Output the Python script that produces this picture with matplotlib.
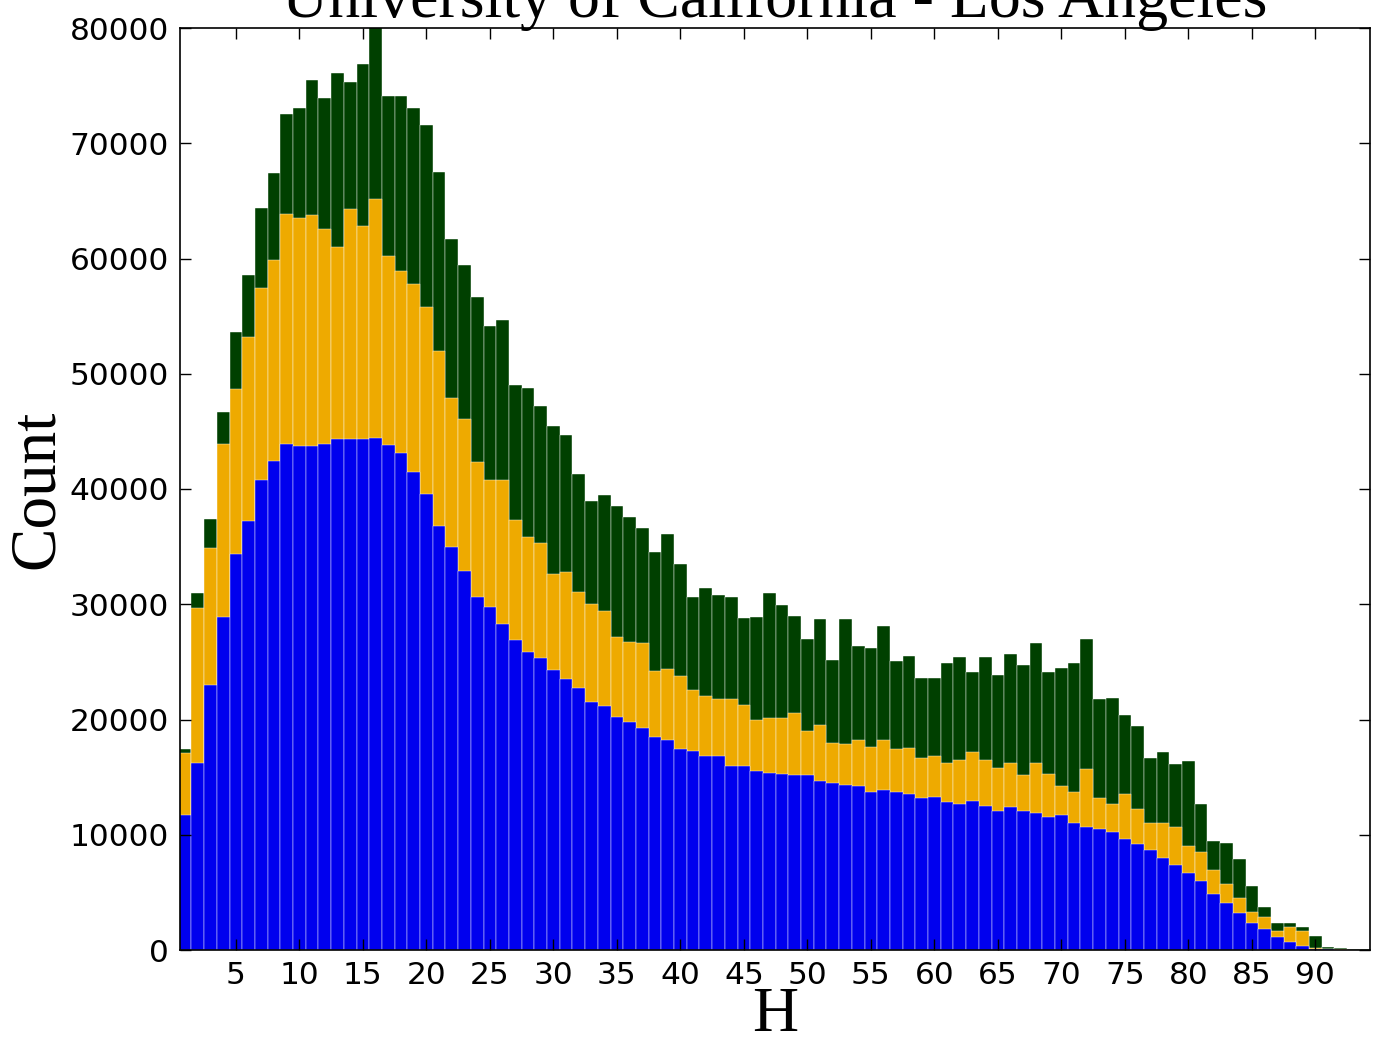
import numpy as np
import matplotlib
matplotlib.use("Agg")
import matplotlib.pyplot as plt

# H bins (integer centres)
h_values = list(range(1, 95))

# cumulative stack tops (thousands of counts)
blue_top = [11.7, 16.2, 23.0, 28.9, 34.4, 37.2, 40.8, 42.4, 43.9, 43.7,
            43.7, 43.9, 44.3, 44.3, 44.3, 44.4, 43.8, 43.1, 41.5, 39.6,
            36.8, 35.0, 32.9, 30.6, 29.8, 28.3, 26.9, 25.9, 25.3, 24.3,
            23.5, 22.7, 21.5, 21.2, 20.2, 19.8, 19.3, 18.5, 18.2, 17.4,
            17.3, 16.8, 16.8, 16.0, 16.0, 15.5, 15.4, 15.3, 15.2, 15.2,
            14.7, 14.5, 14.3, 14.2, 13.7, 13.9, 13.7, 13.5, 13.2, 13.3,
            12.8, 12.7, 12.9, 12.5, 12.1, 12.4, 12.1, 11.9, 11.5, 11.7,
            11.0, 10.7, 10.5, 10.2, 9.6, 9.2, 8.7, 8.0, 7.4, 6.65,
            6.0, 4.86, 4.05, 3.2, 2.3, 1.8, 1.16, 0.67, 0.38, 0.10,
            0.05, 0.03, 0.02, 0.01]
orange_top = [17.05, 29.7, 34.9, 43.9, 48.7, 53.2, 57.4, 59.9, 63.9, 63.5,
              63.8, 62.6, 61.0, 64.3, 62.8, 65.2, 60.2, 58.9, 57.8, 55.8,
              52.0, 47.9, 46.1, 42.3, 40.8, 40.8, 37.3, 35.8, 35.3, 32.6,
              32.8, 31.1, 30.0, 29.4, 27.2, 26.7, 26.6, 24.2, 24.4, 23.8,
              22.6, 22.0, 21.8, 21.8, 21.3, 20.0, 20.1, 20.1, 20.6, 19.0,
              19.5, 18.0, 17.9, 18.2, 17.6, 18.2, 17.4, 17.5, 16.7, 16.8,
              16.2, 16.5, 17.2, 16.5, 15.8, 16.2, 15.2, 16.2, 15.3, 14.2,
              13.7, 15.7, 13.2, 12.7, 13.5, 12.2, 11.0, 11.0, 10.7, 9.0,
              8.5, 6.9, 5.7, 4.5, 3.33, 2.83, 1.68, 2.0, 1.68, 0.15,
              0.08, 0.05, 0.03, 0.02]
green_top = [17.4, 31.0, 37.4, 46.7, 53.6, 58.6, 64.4, 67.4, 72.5, 73.1,
             75.5, 73.9, 76.1, 75.3, 76.9, 81.0, 74.1, 74.1, 73.1, 71.6,
             67.5, 61.7, 59.4, 56.7, 54.1, 54.7, 49.0, 48.8, 47.2, 45.5,
             44.7, 41.3, 39.0, 39.5, 38.5, 37.6, 36.6, 34.5, 36.1, 33.5,
             30.6, 31.4, 30.8, 30.6, 28.8, 28.9, 31.0, 29.9, 29.0, 27.0,
             28.7, 25.2, 28.7, 26.4, 26.2, 28.1, 25.1, 25.5, 23.6, 23.6,
             24.9, 25.4, 24.1, 25.4, 23.9, 25.7, 24.7, 26.6, 24.1, 24.5,
             24.9, 27.0, 21.8, 21.9, 20.4, 19.4, 16.7, 17.2, 16.1, 16.4,
             12.7, 9.5, 9.3, 7.9, 5.55, 3.7, 2.37, 2.37, 2.0, 1.25,
             0.29, 0.15, 0.10, 0.05]

y_ticks = [0, 10000, 20000, 30000, 40000, 50000, 60000, 70000, 80000]
x_ticks = list(range(5, 95, 5))

title = "University of California - Los Angeles"

serif = ["Liberation Serif", "DejaVu Serif"]

fig = plt.figure(figsize=(13.8, 10.54), dpi=100)
ax = fig.add_axes([180 / 1380, 1 - 950 / 1054, 1190 / 1380, 922 / 1054])

x = np.array(h_values)
# draw tallest (cumulative) first so lower layers overlay it
for tops, col in [(green_top, "#004000"), (orange_top, "#eeaa00"), (blue_top, "#0000ee")]:
    ax.bar(x, np.array(tops) * 1000, width=1.0, align="center",
           color=col, edgecolor="white", linewidth=0.3)

ax.set_xlim(0.6, 94.3)
ax.set_ylim(0, 80000)
ax.set_xticks(x_ticks)
ax.set_yticks(y_ticks)
ax.tick_params(direction="in", length=8, width=1, top=True, right=True,
               labelsize=22.5, pad=8)
for sp in ax.spines.values():
    sp.set_linewidth(1.2)

ax.set_xlabel("H", fontsize=46, family=serif, labelpad=-2)
ax.set_ylabel("Count", fontsize=47, family=serif, labelpad=2)
ax.text(0.5, 1 + 11 / 922, title, transform=ax.transAxes, ha="center",
        va="baseline", fontsize=46, family=serif)

fig.savefig("out.png", dpi=100)
